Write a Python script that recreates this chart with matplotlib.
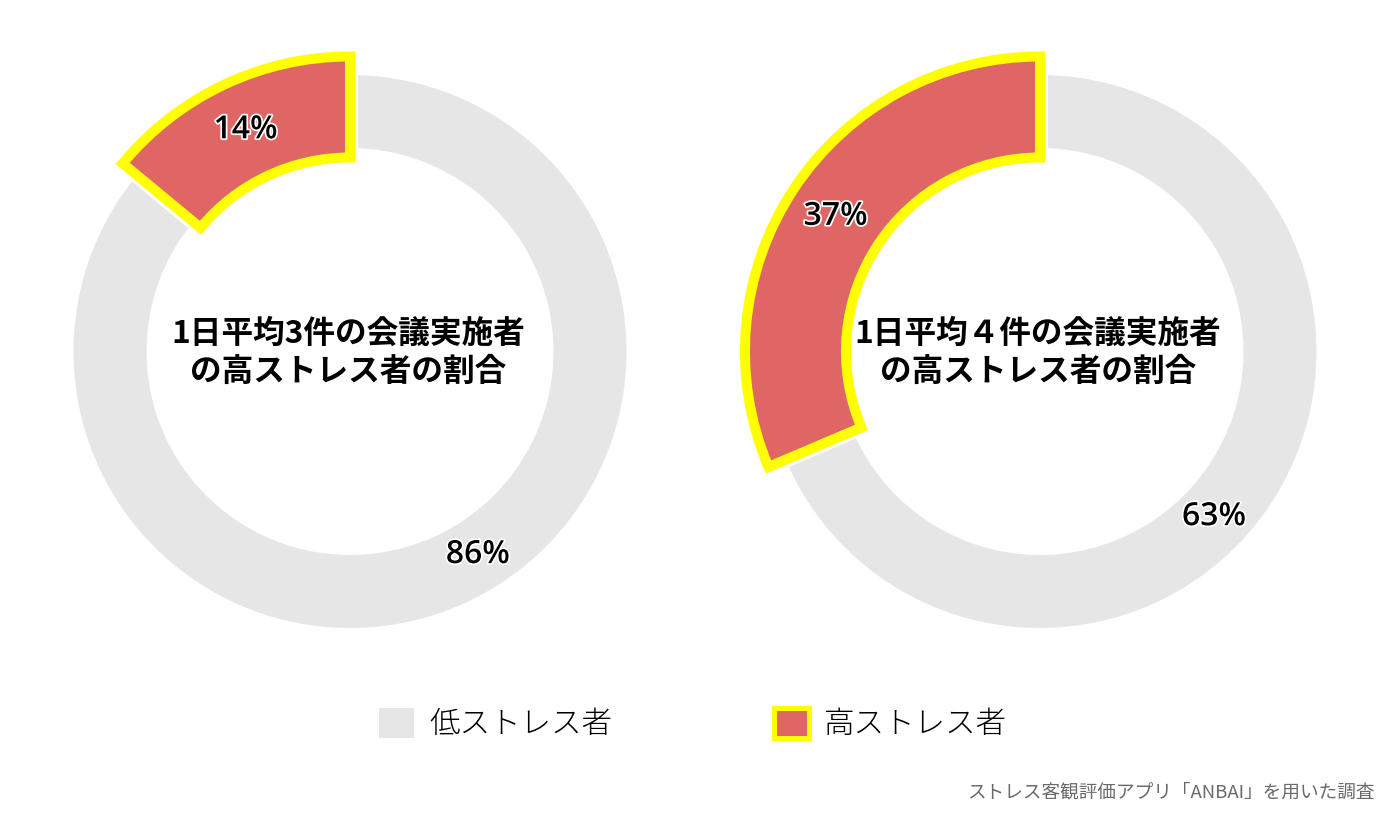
import matplotlib
matplotlib.use("Agg")
import matplotlib.pyplot as plt
from matplotlib.patches import Patch
import matplotlib.patheffects as pe
import numpy as np

# ---------------- data ----------------
titles = ["1日平均3件の会議実施者\nの高ストレス者の割合",
          "1日平均４件の会議実施者\nの高ストレス者の割合"]
high_label_pct = [14, 37]          # printed percentages (high stress)
low_label_pct = [86, 63]           # printed percentages (low stress)
high_arc_share = [14, 31.4]        # ring share actually drawn for the high-stress wedge
low_arc_share = [86, 68.6]
legend_labels = ["低ストレス者", "高ストレス者"]
source_note = "ストレス客観評価アプリ「ANBAI」を用いた調査"

# ---------------- style ----------------
GRAY = "#E6E6E6"
RED = "#E06666"
YELLOW = "#FFFF00"
JP = ["Noto Sans CJK JP", "DejaVu Sans"]
W, H = 1390, 840
PX = 0.72  # points per pixel at dpi=100

fig = plt.figure(figsize=(W / 100, H / 100), dpi=100)
ax = fig.add_axes([0, 0, 1, 1])

centers = [(350, 488.5), (1040, 488.5)]
gray_gap_px = 16
gray_outer, gray_inner = 276.5 + gray_gap_px / 2, 203.5 - gray_gap_px / 2
red_outer, red_width = 295, 101
explode_px = 5
gray_label_angles = [302.2, 316.5]
label_r = 240

stroke = [pe.withStroke(linewidth=2.5, foreground="white")]
num_font = dict(fontsize=23, family=["Open Sans", "DejaVu Sans"], fontweight="semibold",
                color="black", path_effects=stroke, ha="center", va="center")

for i, c in enumerate(centers):
    vals = [high_arc_share[i], low_arc_share[i]]
    # low stress ring
    wg, _ = ax.pie(vals, colors=["none", GRAY], startangle=90, counterclock=True,
                   radius=gray_outer, center=c,
                   wedgeprops=dict(width=gray_outer - gray_inner, edgecolor="white",
                                   linewidth=gray_gap_px * PX))
    wg[0].set_visible(False)
    # high stress wedge (enlarged & slightly exploded)
    wr, _ = ax.pie(vals, colors=[RED, "none"], startangle=90, counterclock=True,
                   radius=red_outer, center=c, explode=[explode_px / red_outer, 0],
                   wedgeprops=dict(width=red_width, edgecolor=YELLOW,
                                   linewidth=10 * PX, joinstyle="miter"))
    wr[1].set_visible(False)

    # labels
    mid = np.deg2rad(90 + high_arc_share[i] * 3.6 / 2)
    rc = (c[0] + explode_px * np.cos(mid), c[1] + explode_px * np.sin(mid))
    ax.text(rc[0] + label_r * np.cos(mid), rc[1] + label_r * np.sin(mid),
            f"{high_label_pct[i]}%", **num_font)
    ga = np.deg2rad(gray_label_angles[i])
    ax.text(c[0] + label_r * np.cos(ga), c[1] + label_r * np.sin(ga),
            f"{low_label_pct[i]}%", **num_font)

    ax.text(c[0] - 2, c[1] - 1, titles[i], ha="center", va="center", fontsize=22.8,
            fontweight="bold", family=JP, linespacing=1.25, color="black")

ax.set_xlim(0, W)
ax.set_ylim(0, H)
ax.set_aspect("equal")
ax.axis("off")

handles = [Patch(facecolor=GRAY, edgecolor=GRAY, linewidth=0),
           Patch(facecolor=RED, edgecolor=YELLOW, linewidth=5 * PX)]
leg = ax.legend(handles, legend_labels, loc="center", bbox_to_anchor=(693 / W, 116 / H),
                ncol=2, frameon=False, prop=dict(family=JP, size=22, weight="light"),
                handlelength=1.15, handleheight=1.15, handletextpad=0.5,
                columnspacing=5.3, borderpad=0)

ax.text(1375, H - 793, source_note, ha="right", va="center", fontsize=13.4,
        family=JP, color="#6a6a6a")

fig.savefig("out.png", dpi=100)
